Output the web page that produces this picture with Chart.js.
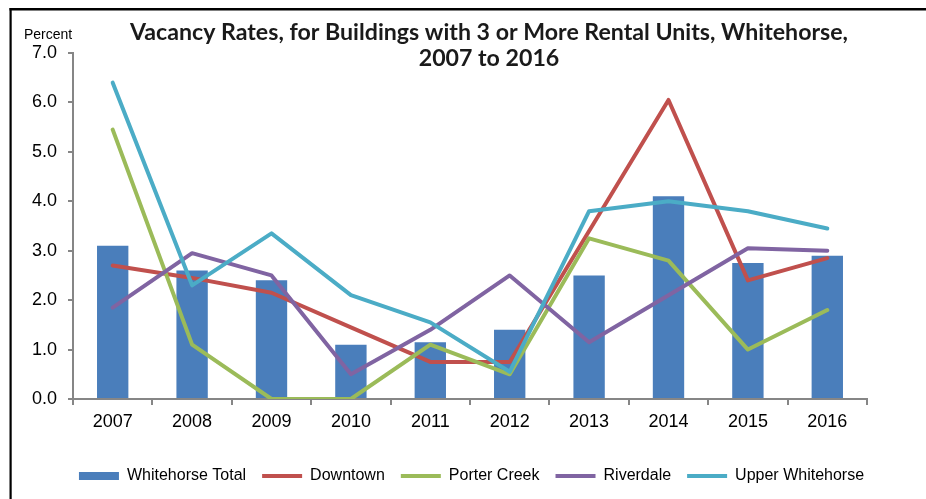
<!DOCTYPE html>
<html>
<head>
<meta charset="utf-8">
<script src="https://cdn.jsdelivr.net/npm/chart.js@4/dist/chart.umd.min.js"></script>
<style>
  html, body { margin: 0; padding: 0; background: #fff; }
  #chart { display: block; }
</style>
</head>
<body>
<canvas id="chart" width="926" height="499"></canvas>
<script>
// Chart values
const years = ['2007', '2008', '2009', '2010', '2011', '2012', '2013', '2014', '2015', '2016'];
const whitehorseTotal = [3.1, 2.6, 2.4, 1.1, 1.15, 1.4, 2.5, 4.1, 2.75, 2.9];
const downtown = [2.7, 2.45, 2.15, 1.45, 0.75, 0.75, 3.4, 6.05, 2.4, 2.85];
const porterCreek = [5.45, 1.1, 0, 0, 1.1, 0.5, 3.25, 2.8, 1.0, 1.8];
const riverdale = [1.85, 2.95, 2.5, 0.5, 1.4, 2.5, 1.15, 2.1, 3.05, 3.0];
const upperWhitehorse = [6.4, 2.3, 3.35, 2.1, 1.55, 0.55, 3.8, 4.0, 3.8, 3.45];

const titleLines = ['Vacancy Rates, for Buildings with 3 or More Rental Units, Whitehorse,', '2007 to 2016'];
const axisUnit = 'Percent';

const axisGrey = '#868686';
const tickFont = { family: '"Liberation Sans", Arial, sans-serif', size: 18 };

// line series share most of their settings
function lineSet(label, data, color, order) {
  return {
    type: 'line',
    label: label,
    data: data,
    borderColor: color,
    backgroundColor: color,
    borderWidth: 4,
    borderCapStyle: 'round',
    borderJoinStyle: 'round',
    pointRadius: 0,
    pointHoverRadius: 0,
    tension: 0,
    fill: false,
    order: order
  };
}

// title, unit label and the frame are drawn on top of the chart
const decorations = {
  id: 'decorations',
  afterDraw(chart) {
    const ctx = chart.ctx;
    ctx.save();

    // frame, left and top only
    ctx.fillStyle = '#000';
    ctx.fillRect(9.5, 8, 926, 2.5);
    ctx.fillRect(9.5, 8, 2.2, 499);

    // title, fitted to the reference width
    let size = 20;
    ctx.font = 'bold ' + size + 'px Lato';
    const w = ctx.measureText(titleLines[0]).width;
    size = size * 718 / w;
    ctx.font = 'bold ' + size.toFixed(2) + 'px Lato';
    ctx.fillStyle = '#1a1a1a';
    ctx.textAlign = 'center';
    ctx.textBaseline = 'alphabetic';
    ctx.fillText(titleLines[0], 489, 39.5);
    ctx.fillText(titleLines[1], 489, 65.5);

    // unit above the y axis
    ctx.font = '14px "Liberation Sans", Arial, sans-serif';
    ctx.fillStyle = '#000';
    ctx.textAlign = 'left';
    ctx.fillText(axisUnit, 24, 39);

    ctx.restore();
  }
};

const data = {
  labels: years,
  datasets: [
    {
      type: 'bar',
      label: 'Whitehorse Total',
      data: whitehorseTotal,
      backgroundColor: '#4a7ebb',
      borderWidth: 0,
      categoryPercentage: 1,
      barPercentage: 0.395,
      order: 5
    },
    lineSet('Downtown', downtown, '#c0504d', 4),
    lineSet('Porter Creek', porterCreek, '#9bbb59', 3),
    lineSet('Riverdale', riverdale, '#8064a2', 2),
    lineSet('Upper Whitehorse', upperWhitehorse, '#4bacc6', 1)
  ]
};

const config = {
  type: 'bar',
  data: data,
  options: {
    responsive: false,
    animation: false,
    layout: {
      padding: { left: 17, right: 0, top: 53, bottom: 5 }
    },
    plugins: {
      title: { display: false },
      tooltip: { enabled: false },
      legend: {
        display: true,
        position: 'bottom',
        labels: {
          usePointStyle: true,
          pointStyleWidth: 40,
          boxHeight: 8,
          padding: 16,
          color: '#000',
          font: { family: '"Liberation Sans", Arial, sans-serif', size: 16 },
          sort: (a, b) => a.datasetIndex - b.datasetIndex,
          generateLabels(chart) {
            const items = Chart.defaults.plugins.legend.labels.generateLabels(chart);
            items.forEach(item => {
              if (item.datasetIndex === 0) {
                item.pointStyle = 'rect';
                item.lineWidth = 0;
              } else {
                item.pointStyle = 'line';
              }
            });
            return items;
          }
        }
      }
    },
    scales: {
      x: {
        offset: true,
        grid: {
          display: true,
          offset: true,
          drawOnChartArea: false,
          drawTicks: true,
          tickLength: 6,
          color: axisGrey,
          lineWidth: 2
        },
        border: { display: true, color: axisGrey, width: 2 },
        ticks: {
          color: '#000',
          padding: 6,
          maxRotation: 0,
          font: tickFont
        },
        afterFit(scale) { scale.height = 53; }
      },
      y: {
        position: 'left',
        min: 0,
        max: 7,
        grid: {
          display: true,
          drawOnChartArea: false,
          drawTicks: true,
          tickLength: 5,
          color: axisGrey,
          lineWidth: 2
        },
        border: { display: true, color: axisGrey, width: 2 },
        ticks: {
          stepSize: 1,
          color: '#000',
          padding: 11,
          font: tickFont,
          callback: (v) => Number(v).toFixed(1)
        },
        afterFit(scale) { scale.width = 56; }
      },
      // empty right axis, only keeps the plot off the right edge
      yRight: {
        position: 'right',
        display: true,
        grid: { display: false, drawTicks: false },
        border: { display: false },
        ticks: { display: false },
        afterFit(scale) { scale.width = 59; }
      }
    }
  },
  plugins: [decorations]
};

const vacancyChart = new Chart(document.getElementById('chart'), config);
</script>
</body>
</html>
